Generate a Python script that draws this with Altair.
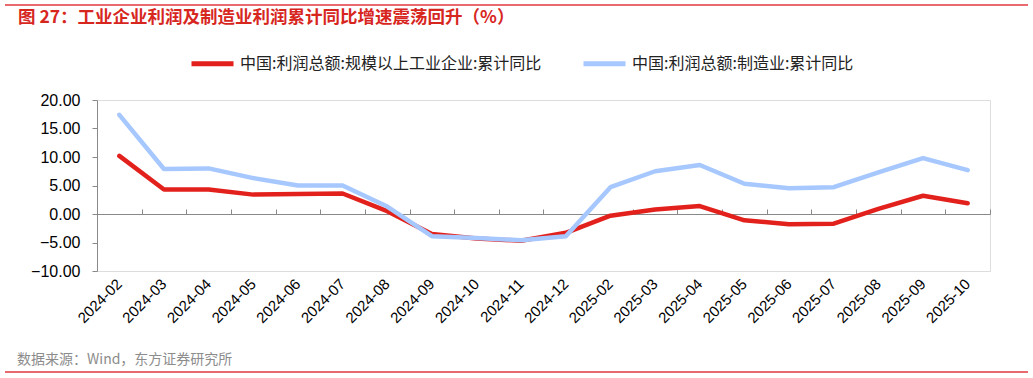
import altair as alt
import pandas as pd

months = ["2024-02", "2024-03", "2024-04", "2024-05", "2024-06", "2024-07", "2024-08",
          "2024-09", "2024-10", "2024-11", "2024-12", "2025-02", "2025-03", "2025-04",
          "2025-05", "2025-06", "2025-07", "2025-08", "2025-09", "2025-10"]
red_vals = [10.2, 4.3, 4.3, 3.4, 3.5, 3.6, 0.5, -3.5, -4.3, -4.7, -3.3, -0.3, 0.8, 1.4,
            -1.1, -1.8, -1.7, 0.9, 3.2, 1.9]
blue_vals = [17.4, 7.9, 8.0, 6.3, 5.0, 5.0, 1.3, -3.9, -4.2, -4.6, -3.9, 4.7, 7.5, 8.6,
             5.3, 4.5, 4.7, 7.3, 9.8, 7.7]
series_names = ["中国:利润总额:规模以上工业企业:累计同比", "中国:利润总额:制造业:累计同比"]
series_colors = ["#e3211c", "#a6c8ff"]
y_ticks = [-10, -5, 0, 5, 10, 15, 20]
title_text = "图 27：工业企业利润及制造业利润累计同比增速震荡回升（%）"
source_text = "数据来源：Wind，东方证券研究所"

rows = []
for name, vals in zip(series_names, [red_vals, blue_vals]):
    for m, v in zip(months, vals):
        rows.append({"month": m, "value": v, "series": name})
df = pd.DataFrame(rows)

W, H = 893, 171
CJK = "Noto Sans CJK SC"
NUM = "Liberation Sans"

x_enc = alt.X("month:N", sort=months, scale=alt.Scale(paddingInner=0, paddingOuter=0),
              axis=alt.Axis(orient="bottom", title="", labelAngle=315, labelFontSize=15,
                            labelFont=NUM, labelColor="#000000", labelPadding=10,
                            domain=False, ticks=False, labelAlign="right",
                            labelBaseline="middle", labelOverlap=False))
y_enc = alt.Y("value:Q", scale=alt.Scale(domain=[-10, 20], nice=False),
              axis=alt.Axis(title="", values=y_ticks, format=".2f", labelFontSize=16,
                            labelFont=NUM, labelColor="#000000", tickSize=5,
                            tickColor="#898989", domainColor="#898989", grid=False,
                            labelPadding=12, labelOverlap=False))

lines = alt.Chart(df).mark_line(strokeWidth=4.5, strokeCap="round", strokeJoin="round").encode(
    x=x_enc,
    y=y_enc,
    color=alt.Color("series:N", scale=alt.Scale(domain=series_names, range=series_colors),
                    legend=alt.Legend(orient="none", legendX=92, legendY=-60, direction="horizontal",
                                      title="", symbolType="stroke", symbolSize=1764,
                                      symbolStrokeWidth=5, labelFont=CJK, labelFontSize=16,
                                      labelColor="#222222", columnPadding=31, labelOffset=4,
                                      labelLimit=400)),
    detail="series:N",
)

zero_axis = alt.Chart(df).mark_point(opacity=0).encode(
    x=alt.X("month:N", sort=months,
            axis=alt.Axis(orient="top", offset=-114, labels=False, title="",
                          domainColor="#898989", tickColor="#898989", tickSize=5,
                          tickBand="extent", domainWidth=1.2)),
    y=y_enc,
)

deco = pd.DataFrame({"k": [0]})
top_rule = alt.Chart(deco).mark_rule(color="#e0393e", strokeWidth=1.5).encode(
    x=alt.value(-92), x2=alt.value(931), y=alt.value(-95))
bot_rule = alt.Chart(deco).mark_rule(color="#e0393e", strokeWidth=1.5).encode(
    x=alt.value(-92), x2=alt.value(931), y=alt.value(272))
title = alt.Chart(deco).mark_text(align="left", baseline="middle", font=CJK, fontSize=17.5,
                                  fontWeight="bold", color="#d7261e").encode(
    x=alt.value(-79), y=alt.value(-82), text=alt.value(title_text))
source = alt.Chart(deco).mark_text(align="left", baseline="middle", font=CJK, fontSize=14,
                                   color="#8c8c8c").encode(
    x=alt.value(-80), y=alt.value(260), text=alt.value(source_text))

chart = alt.layer(lines, zero_axis, top_rule, bot_rule, title, source).properties(
    width=W, height=H, autosize="none",
    padding={"left": 97, "top": 100, "right": 43, "bottom": 107},
).configure_view(stroke=None).configure(background="white")

chart.save("out.html", embed_options={"renderer": "svg", "actions": False})
